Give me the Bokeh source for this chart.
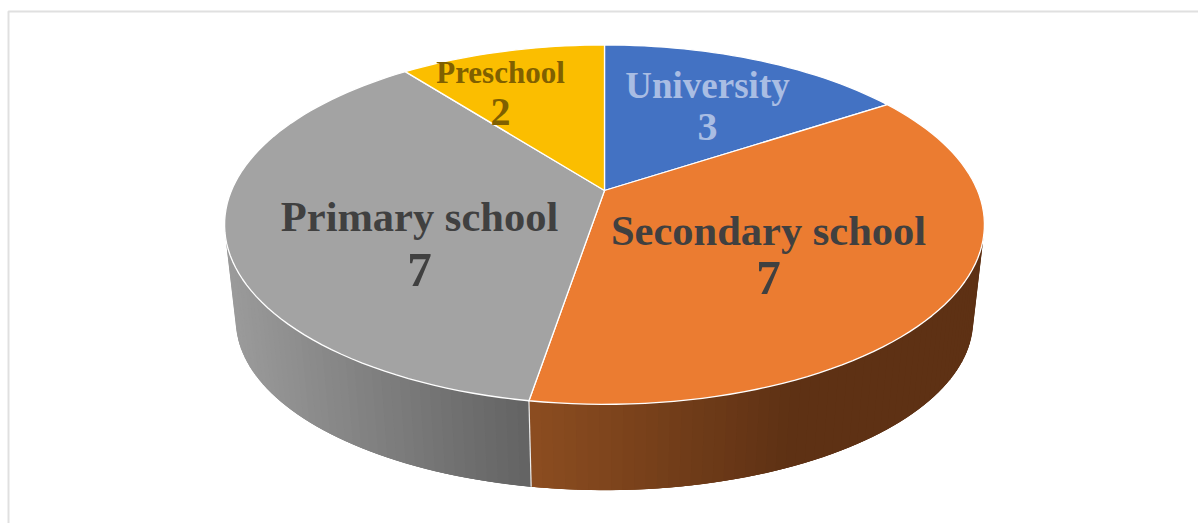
from math import pi, sin, cos
from bokeh.embed import file_html
from bokeh.models import Range1d, ColumnDataSource
from bokeh.plotting import figure
from bokeh.resources import INLINE
from bokeh.core.properties import value

# Number of respondents per education level, clockwise from twelve o'clock
categories = ["University", "Secondary school", "Primary school", "Preschool"]
counts = [3, 7, 7, 2]

slice_colors = ["#4372C3", "#EB7C31", "#A3A3A3", "#FBBE00"]
label_colors = ["#A9BDE3", "#404040", "#404040", "#806000"]
label_sizes = ["37px", "42.5px", "42.5px", "31px"]
label_x = [707, 768, 419, 500]
name_y = [85, 230, 216, 72]
count_y = [126, 277, 269, 111]
count_sizes = ["40px", "49px", "49px", "40px"]

W, H = 1198, 523
CX = 604
TILT = 0.19                    # perspective foreshortening of the disc
TOP = (190.0, 373.0, 173.2)    # apex y, x radius, y radius of the upper face
BOTTOM = (287.6, 362.0, 163.7) # same for the lower face
WALL_START_Y = 245             # the wall only shows below this height on the rim

# Wall shading: (x, rgb) stops per slice, interpolated along the screen x
WALL_STOPS = {
    1: [(530, (0x8C, 0x4D, 0x20)), (790, (0x5E, 0x31, 0x14)), (1000, (0x5E, 0x31, 0x14))],
    2: [(225, (0x9C, 0x9C, 0x9C)), (529, (0x63, 0x63, 0x63))],
}


def project(t, face):
    """Screen position of the disc rim at clockwise angle t (radians from top)."""
    cy, rx, ry = face
    d = 1 + TILT * cos(t)
    return CX + rx * sin(t) / d, cy - ry * cos(t) / d


def wall_color(slice_index, x):
    stops = WALL_STOPS[slice_index]
    for (x0, c0), (x1, c1) in zip(stops, stops[1:]):
        if x <= x1:
            f = max(0.0, (x - x0) / (x1 - x0))
            rgb = [round(a + (b - a) * f) for a, b in zip(c0, c1)]
            return "#%02x%02x%02x" % tuple(rgb)
    return "#%02x%02x%02x" % stops[-1][1]


total = sum(counts)
edges = [0.0]
for c in counts:
    edges.append(edges[-1] + 2 * pi * c / total)

p = figure(
    width=W, height=H, output_backend="svg", toolbar_location=None,
    x_range=Range1d(0, W), y_range=Range1d(H, 0),
    min_border=0, outline_line_color=None, background_fill_color="white",
    border_fill_color="white",
)
p.axis.visible = False
p.grid.visible = False

# Chart frame: only its left and top sides fall inside the page
p.line([8, 8, W], [H, 11, 11], line_color="#E0E0E0", line_width=2)

# Wall: overlapping quads between the two rims, shaded by horizontal position.
# The overlaps hide the antialiased joints between neighbouring quads.
wall_xs, wall_ys, wall_cols = [], [], []
N = 90
for i, order in ((1, range(N)), (2, range(N - 1, -1, -1))):
    start, stop = edges[i], edges[i + 1]
    step = (stop - start) / N
    for j in order:
        a = start + step * j
        b = a + step
        if i == 1:
            b = min(stop, a + 3 * step)
        else:
            a = max(start, b - 3 * step)
        ax, ay = project(a, TOP)
        bx, by = project(b, TOP)
        if max(ay, by) < WALL_START_Y:
            continue
        cx, cy = project(b, BOTTOM)
        dx, dy = project(a, BOTTOM)
        wall_xs.append([ax, bx, cx, dx])
        wall_ys.append([ay, by, cy, dy])
        mid = start + step * (j + 0.5)
        wall_cols.append(wall_color(i, (project(mid, TOP)[0] + project(mid, BOTTOM)[0]) / 2))
p.patches(wall_xs, wall_ys, fill_color=wall_cols, line_color=None)

# Seam between the two visible wall sections
sx0, sy0 = project(edges[2], TOP)
sx1, sy1 = project(edges[2], BOTTOM)
p.line([sx0, sx1], [sy0, sy1], line_color="#EDEDED", line_width=1.2)

# Upper face of the pie
top_xs, top_ys = [], []
apex = (CX, TOP[0])
for i in range(len(counts)):
    steps = max(8, int(200 * counts[i] / total))
    pts = [project(edges[i] + (edges[i + 1] - edges[i]) * k / steps, TOP) for k in range(steps + 1)]
    top_xs.append([apex[0]] + [q[0] for q in pts])
    top_ys.append([apex[1]] + [q[1] for q in pts])
p.patches(top_xs, top_ys, fill_color=slice_colors, line_color="#FFFFFF", line_width=1.3, line_join="round")

# Data labels: category name above its count
names = ColumnDataSource(dict(x=label_x, y=name_y, t=categories, c=label_colors, s=label_sizes))
p.text("x", "y", text="t", source=names, text_color="c", text_font_size="s",
       text_font=value("Liberation Serif"), text_font_style="bold",
       text_align="center", text_baseline="middle")
nums = ColumnDataSource(dict(x=label_x, y=count_y, t=[str(c) for c in counts], c=label_colors, s=count_sizes))
p.text("x", "y", text="t", source=nums, text_color="c", text_font_size="s",
       text_font=value("Liberation Serif"), text_font_style="bold",
       text_align="center", text_baseline="middle")

open("out.html", "w").write(file_html(p, INLINE))
